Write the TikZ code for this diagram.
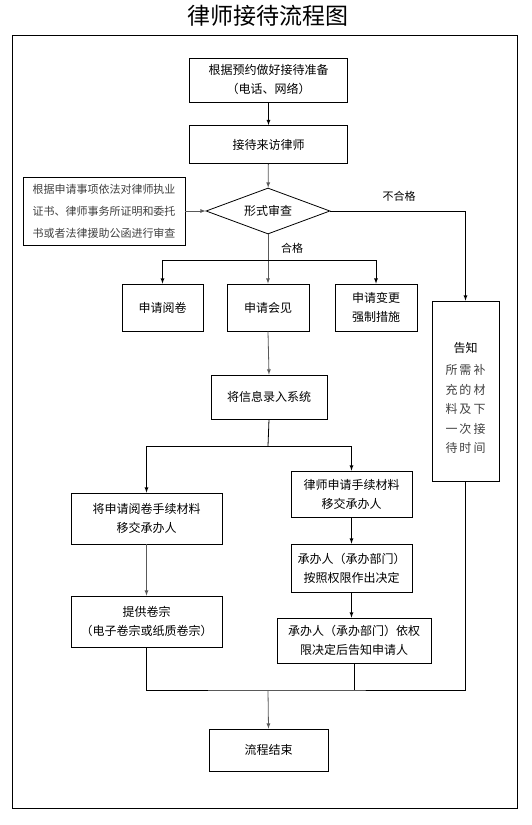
\documentclass[tikz,border=0pt]{standalone}
\usepackage{fontspec}
\setmainfont{Noto Sans CJK SC}
\usepackage{tikz}
\usetikzlibrary{shapes,arrows,positioning,shapes.geometric,calc}

\begin{document}
\begin{tikzpicture}[x=1pt,y=-1pt,>=latex,
	box/.style={draw,thick,rectangle,align=center,inner sep=0pt,font=\fontsize{12}{19}\selectfont},
	gline/.style={draw=black!65,thick},
	bline/.style={draw=black,thick}]
					\useasboundingbox (0,0) rectangle (532,825);
					\node (title) at (268,16) {\fontsize{23}{23}\selectfont 律师接待流程图};
					\draw[thick] (12,35) rectangle (517,808);
					
					\node (prep) at (268.5,80) [box,minimum width=158,minimum height=44] {根据预约做好接待准备\\（电话、网络）};
					\node (recv) at (268.5,144.5) [box,minimum width=158,minimum height=38] {接待来访律师};
					\node (check) at (268,211) [draw,thick,diamond,aspect=2.7,inner sep=0pt,minimum width=124,minimum height=46,font=\fontsize{12}{12}\selectfont] {形式审查};
					\node (basis) at (104,211) [box,minimum width=162,minimum height=68,text=black!75,font=\fontsize{11}{22}\selectfont] {根据申请事项依法对律师执业\\证书、律师事务所证明和委托\\书或者法律援助公函进行审查};
					\node (nopass) at (399,196) [font=\fontsize{11}{11}\selectfont] {不合格};
					\node (pass) at (292,248) [font=\fontsize{11}{11}\selectfont] {合格};
					
					\node (read) at (162.5,307.5) [box,minimum width=81,minimum height=47] {申请阅卷};
					\node (meet) at (268,307.5) [box,minimum width=82,minimum height=47] {申请会见};
					\node (change) at (376,307.5) [box,minimum width=82,minimum height=47] {申请变更\\强制措施};
					\node (inform) at (465.5,391) [box,minimum width=67,minimum height=180] {};
					\node (informtext) at (465.5,398) [align=center,font=\fontsize{12}{19.5}\selectfont] {告知\\[3pt]{\color{black!75}所\,需\,补}\\{\color{black!75}充\,的\,材}\\{\color{black!75}料\,及\,下}\\{\color{black!75}一\,次\,接}\\{\color{black!75}待\,时\,间}};
					
					\node (enter) at (269,397) [box,minimum width=116,minimum height=44] {将信息录入系统};
					\node (handa) at (146.5,518.5) [box,minimum width=151,minimum height=51] {将申请阅卷手续材料\\移交承办人};
					\node (handb) at (351.5,494) [box,minimum width=121,minimum height=46] {律师申请手续材料\\移交承办人};
					\node (decide) at (351.5,568) [box,minimum width=121,minimum height=48] {承办人（承办部门）\\按照权限作出决定};
					\node (notify) at (354,640.5) [box,minimum width=154,minimum height=45] {承办人（承办部门）依权\\限决定后告知申请人};
					\node (supply) at (146.5,621.5) [box,minimum width=151,minimum height=51] {提供卷宗\\（电子卷宗或纸质卷宗）};
					\node (finish) at (268.5,750) [box,minimum width=119,minimum height=42] {流程结束};
					
					\coordinate (fork1) at (268,260);
					\coordinate (fork2) at (268,446);
					\coordinate (join) at (268,690);
					
					\draw[bline,->] (prep) -- (recv);
					\draw[gline,->] (recv) -- (check);
					\draw[gline,->] (basis) -- (check);
					\draw[bline,->] (check.east) -| (inform.north);
					
					\draw[gline] (check.south) -- (fork1);
					\draw[gline,->] (fork1) -- (meet.north);
					\draw[bline,->] (fork1) -| (read.north);
					\draw[bline,->] (fork1) -| (change.north);
					
					\draw[gline,->] (meet.south) -- (enter.north);
					\draw[bline] (enter.south) -- (fork2);
					\draw[bline,->] (fork2) -| (handa.north);
					\draw[bline,->] (fork2) -| (handb.north);
					
					\draw[gline,->] (handa) -- (supply);
					\draw[bline,->] (handb) -- (decide);
					\draw[bline,->] (decide.south) -- (decide.south |- notify.north);
					
					\draw[bline] (supply.south) |- (join) -| (inform.south);
					\draw[bline] (notify.south) -- (notify.south |- join);
					\draw[gline,->] (join) -- (finish.north);
				\end{tikzpicture}
\end{document}
